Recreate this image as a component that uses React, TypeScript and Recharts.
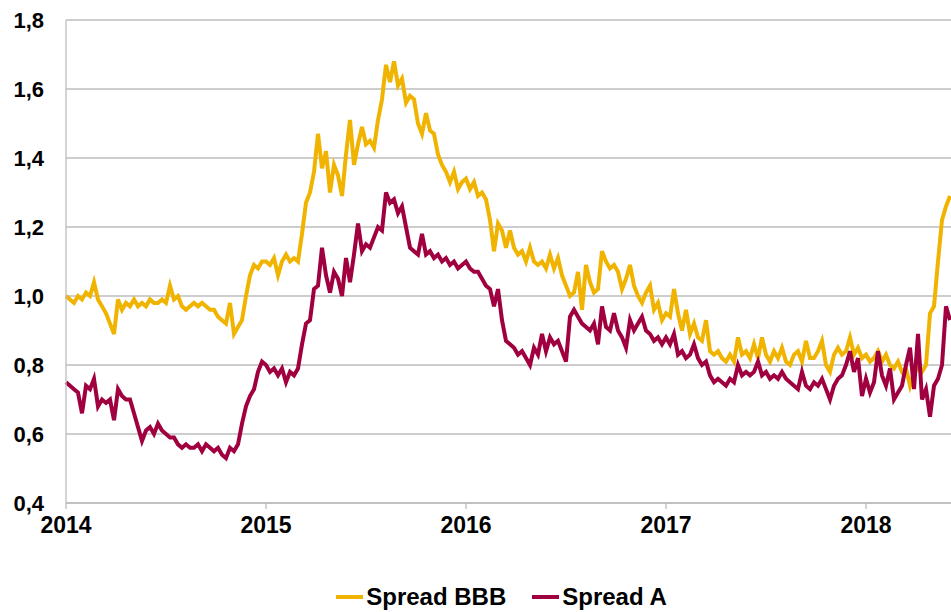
import { LineChart, Line, XAxis, YAxis, CartesianGrid } from 'recharts';

// weekly-ish readings, 50 per year (2018 stops at the end of May)
const BBB_2014 = [
  1.0, 0.99, 0.98, 1.0, 0.99, 1.01, 1.0, 1.04, 0.99, 0.97,
  0.95, 0.92, 0.89, 0.99, 0.96, 0.98, 0.97, 0.99, 0.97, 0.98,
  0.97, 0.99, 0.98, 0.98, 0.99, 0.98, 1.03, 0.99, 1.0, 0.97,
  0.96, 0.97, 0.98, 0.97, 0.98, 0.97, 0.96, 0.96, 0.94, 0.93,
  0.92, 0.98, 0.89, 0.91, 0.93, 1.0, 1.06, 1.09, 1.08, 1.1,
];
const BBB_2015 = [
  1.1, 1.09, 1.11, 1.06, 1.1, 1.12, 1.1, 1.11, 1.1, 1.18,
  1.27, 1.3, 1.36, 1.47, 1.37, 1.42, 1.3, 1.38, 1.35, 1.29,
  1.41, 1.51, 1.38, 1.44, 1.49, 1.44, 1.45, 1.43, 1.51, 1.57,
  1.67, 1.62, 1.68, 1.61, 1.63, 1.56, 1.58, 1.57, 1.5, 1.47,
  1.53, 1.48, 1.47, 1.41, 1.38, 1.36, 1.33, 1.36, 1.31, 1.33,
];
const BBB_2016 = [
  1.34, 1.31, 1.33, 1.29, 1.3, 1.28, 1.22, 1.13, 1.21, 1.19,
  1.14, 1.19, 1.14, 1.12, 1.13, 1.1, 1.14, 1.1, 1.09, 1.1,
  1.08, 1.12, 1.08, 1.11, 1.06, 1.03, 1.0, 1.01, 1.07, 0.96,
  1.09, 1.04, 1.01, 1.02, 1.13, 1.1, 1.08, 1.09, 1.07, 1.02,
  1.05, 1.09, 1.03, 1.0, 0.98, 1.01, 1.03, 0.96, 0.98, 0.93,
];
const BBB_2017 = [
  0.95, 0.94, 1.02, 0.95, 0.9, 0.96, 0.89, 0.92, 0.88, 0.87,
  0.93, 0.84, 0.83, 0.84, 0.82, 0.81, 0.83, 0.81, 0.88, 0.83,
  0.84, 0.82, 0.86, 0.82, 0.88, 0.83, 0.81, 0.84, 0.82, 0.85,
  0.81, 0.8, 0.83, 0.84, 0.81, 0.87, 0.82, 0.82, 0.84, 0.87,
  0.8, 0.78, 0.83, 0.85, 0.83, 0.84, 0.88, 0.83, 0.85, 0.82,
];
const BBB_2018 = [
  0.83, 0.81, 0.82, 0.84, 0.81, 0.83, 0.8, 0.79, 0.81, 0.78,
  0.79, 0.74, 0.78, 0.79, 0.78, 0.8, 0.95, 0.97, 1.1, 1.22,
  1.26, 1.29,
];

const A_2014 = [
  0.75, 0.74, 0.73, 0.72, 0.66, 0.74, 0.73, 0.76, 0.68, 0.7,
  0.69, 0.7, 0.64, 0.73, 0.71, 0.7, 0.7, 0.66, 0.62, 0.58,
  0.61, 0.62, 0.6, 0.63, 0.61, 0.6, 0.59, 0.59, 0.57, 0.56,
  0.57, 0.56, 0.56, 0.57, 0.55, 0.57, 0.56, 0.55, 0.56, 0.54,
  0.53, 0.56, 0.55, 0.57, 0.63, 0.68, 0.71, 0.73, 0.78, 0.81,
];
const A_2015 = [
  0.8, 0.78, 0.79, 0.77, 0.79, 0.75, 0.78, 0.77, 0.79, 0.86,
  0.92, 0.93, 1.02, 1.03, 1.14, 1.06, 1.01, 1.07, 1.05, 1.0,
  1.11, 1.04, 1.12, 1.21, 1.13, 1.15, 1.14, 1.17, 1.2, 1.19,
  1.3, 1.27, 1.28, 1.24, 1.26, 1.2, 1.14, 1.13, 1.12, 1.18,
  1.12, 1.13, 1.11, 1.12, 1.1, 1.11, 1.09, 1.1, 1.08, 1.09,
];
const A_2016 = [
  1.1, 1.08, 1.07, 1.07, 1.05, 1.03, 1.02, 0.97, 1.02, 0.93,
  0.87, 0.86, 0.85, 0.83, 0.84, 0.82, 0.8, 0.85, 0.83, 0.89,
  0.84, 0.88, 0.86, 0.87, 0.84, 0.81, 0.94, 0.96, 0.94, 0.92,
  0.91, 0.9, 0.92, 0.86, 0.97, 0.91, 0.9, 0.95, 0.9, 0.88,
  0.85, 0.93, 0.9, 0.92, 0.94, 0.9, 0.89, 0.87, 0.88, 0.86,
];
const A_2017 = [
  0.88, 0.86, 0.89, 0.83, 0.84, 0.82, 0.83, 0.86, 0.82, 0.8,
  0.81, 0.77, 0.75, 0.76, 0.75, 0.74, 0.76, 0.75, 0.8, 0.77,
  0.78, 0.77, 0.78, 0.81, 0.77, 0.78, 0.76, 0.77, 0.76, 0.78,
  0.76, 0.75, 0.74, 0.73, 0.78, 0.74, 0.73, 0.75, 0.74, 0.76,
  0.73, 0.7, 0.74, 0.76, 0.77, 0.8, 0.84, 0.78, 0.82, 0.71,
];
const A_2018 = [
  0.76, 0.72, 0.75, 0.84, 0.77, 0.74, 0.79, 0.7, 0.72, 0.74,
  0.8, 0.85, 0.73, 0.89, 0.7, 0.73, 0.65, 0.74, 0.76, 0.8,
  0.97, 0.93,
];

const YEAR_TICKS = [2014, 2015, 2016, 2017, 2018];
const VALUE_TICKS = [0.4, 0.6, 0.8, 1.0, 1.2, 1.4, 1.6, 1.8];

const START = 2014;
const STEP = 0.02;

const BBB = [...BBB_2014, ...BBB_2015, ...BBB_2016, ...BBB_2017, ...BBB_2018];
const SPREAD_A = [...A_2014, ...A_2015, ...A_2016, ...A_2017, ...A_2018];

const data = BBB.map((v, i) => ({ t: START + i * STEP, bbb: v, a: SPREAD_A[i] }));

const GOLD = '#F0B400';
const WINE = '#A0003F';
const FONT = '"Liberation Sans", Arial, sans-serif';

export default function App() {
  return (
    <div style={{ position: 'absolute', left: 0, top: 0, width: 951, height: 612, background: '#fff', fontFamily: FONT }}>
      <LineChart width={951} height={612} data={data} margin={{ top: 20, right: 0, left: 0, bottom: 79 }}>
        <CartesianGrid vertical={false} stroke="#BDBDBD" strokeWidth={1.3} />
        <XAxis
          dataKey="t"
          type="number"
          domain={[2014, 2018.425]}
          ticks={YEAR_TICKS}
          tickFormatter={(v) => String(v)}
          height={30}
          tickSize={6}
          tickMargin={8}
          stroke="#BDBDBD"
          strokeWidth={1.3}
          tick={{ fontSize: 23, fontWeight: 700, fill: '#000', fontFamily: FONT }}
        />
        <YAxis
          type="number"
          domain={[0.4, 1.8]}
          ticks={VALUE_TICKS}
          width={66}
          tickLine={false}
          tickSize={0}
          tickMargin={22}
          stroke="#BDBDBD"
          strokeWidth={1.3}
          tickFormatter={(v) => v.toFixed(1).replace('.', ',')}
          tick={{ fontSize: 22, fontWeight: 700, fill: '#000', fontFamily: FONT }}
        />
        <Line type="linear" dataKey="bbb" stroke={GOLD} strokeWidth={4} dot={false} isAnimationActive={false} />
        <Line type="linear" dataKey="a" stroke={WINE} strokeWidth={4} dot={false} isAnimationActive={false} />
      </LineChart>
      <div style={{ position: 'absolute', top: 583, left: 0, width: 951, display: 'flex', justifyContent: 'center', gap: 26, fontSize: 24, fontWeight: 700, color: '#000', marginLeft: 26 }}>
        {[
          { name: 'Spread BBB', color: GOLD },
          { name: 'Spread A', color: WINE },
        ].map((item) => (
          <div key={item.name} style={{ display: 'flex', alignItems: 'center', gap: 3 }}>
            <span style={{ display: 'inline-block', width: 27, height: 4, background: item.color }} />
            <span>{item.name}</span>
          </div>
        ))}
      </div>
    </div>
  );
}
